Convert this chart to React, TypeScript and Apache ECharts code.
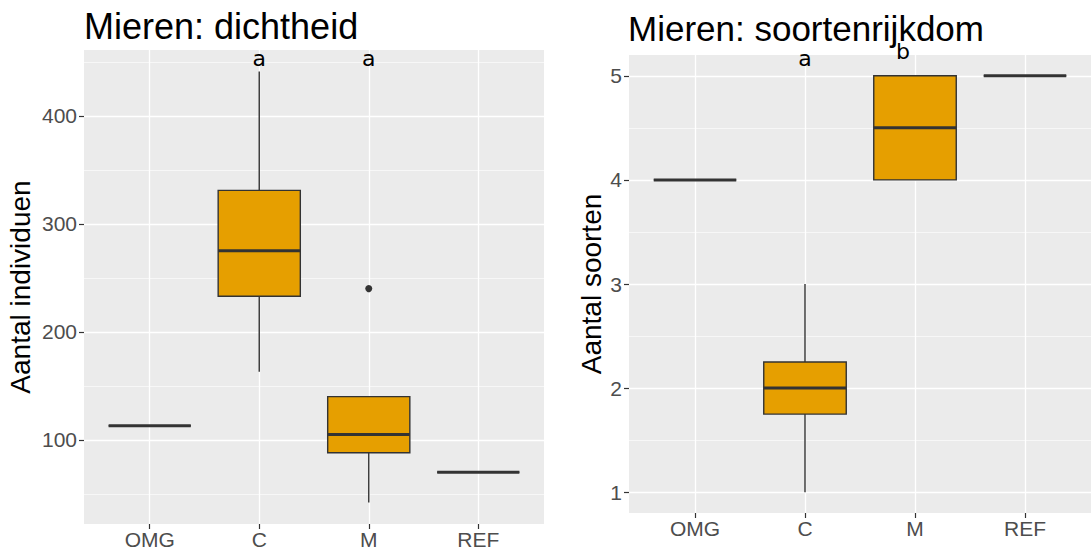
import React, { useEffect, useRef } from "react";
import * as echarts from "echarts";

// ---- data ----
const categories = ["OMG", "C", "M", "REF"];

// Left panel: Mieren: dichtheid (Aantal individuen)
const densityMin = [113, 163, 42, 70];
const densityQ1 = [113, 233, 88, 70];
const densityMedian = [113, 275, 105, 70];
const densityQ3 = [113, 331, 140, 70];
const densityMax = [113, 441, 140, 70];
const densityOutlierCats = ["M"];
const densityOutlierVals = [240];
const densityTicks = [100, 200, 300, 400];
const densityLetters = ["a", "a"];
const densityLetterX = [2, 3];
const densityLetterY = [453, 453];

// Right panel: Mieren: soortenrijkdom (Aantal soorten)
const richnessMin = [4, 1, 4, 5];
const richnessQ1 = [4, 1.75, 4, 5];
const richnessMedian = [4, 2, 4.5, 5];
const richnessQ3 = [4, 2.25, 5, 5];
const richnessMax = [4, 3, 5, 5];
const richnessTicks = [1, 2, 3, 4, 5];
const richnessLetters = ["a", "b"];
const richnessLetterX = [2, 2.89];
const richnessLetterY = [5.165, 5.235];

const FONT = "Liberation Sans";
const FILL = "#E69F00";
const STROKE = "#333333";

function buildRows(mn: number[], q1: number[], md: number[], q3: number[], mx: number[]) {
  return categories.map((_, i) => [i + 1, mn[i], q1[i], md[i], q3[i], mx[i]]);
}

function expand(lo: number, hi: number): [number, number] {
  const r = hi - lo;
  return [lo - 0.05 * r, hi + 0.05 * r];
}

const boxRender = (params: any, api: any) => {
  const x = api.value(0);
  const lo = api.value(1);
  const q1 = api.value(2);
  const med = api.value(3);
  const q3 = api.value(4);
  const hi = api.value(5);
  const hw = 0.375;
  const pTL = api.coord([x - hw, q3]);
  const pBR = api.coord([x + hw, q1]);
  const pML = api.coord([x - hw, med]);
  const pMR = api.coord([x + hw, med]);
  const pHi = api.coord([x, hi]);
  const pQ3 = api.coord([x, q3]);
  const pQ1 = api.coord([x, q1]);
  const pLo = api.coord([x, lo]);
  return {
    type: "group",
    children: [
      { type: "line", shape: { x1: pHi[0], y1: pHi[1], x2: pQ3[0], y2: pQ3[1] }, style: { stroke: STROKE, lineWidth: 1.4 } },
      { type: "line", shape: { x1: pQ1[0], y1: pQ1[1], x2: pLo[0], y2: pLo[1] }, style: { stroke: STROKE, lineWidth: 1.4 } },
      {
        type: "rect",
        shape: { x: pTL[0], y: pTL[1], width: pBR[0] - pTL[0], height: pBR[1] - pTL[1] },
        style: { fill: FILL, stroke: STROKE, lineWidth: 1.4 },
      },
      { type: "line", shape: { x1: pML[0], y1: pML[1], x2: pMR[0], y2: pMR[1] }, style: { stroke: STROKE, lineWidth: 3 } },
    ],
  };
};

const letterRender = (letters: string[]) => (params: any, api: any) => {
  const p = api.coord([api.value(0), api.value(1)]);
  return {
    type: "text",
    x: p[0],
    y: p[1],
    style: {
      text: letters[params.dataIndex],
      fill: "#000",
      font: '22px "DejaVu Sans"',
      align: "center",
      verticalAlign: "middle",
    },
  };
};

function xAxisFor(gridIndex: number) {
  return {
    type: "value",
    gridIndex,
    min: 0.4,
    max: 4.6,
    axisLine: { show: false },
    axisTick: { show: true, customValues: [1, 2, 3, 4], length: 5, lineStyle: { color: STROKE, width: 1.2 } },
    axisLabel: {
      customValues: [1, 2, 3, 4],
      formatter: (v: number) => categories[Math.round(v) - 1] ?? "",
      color: "#4D4D4D",
      fontSize: 21,
      fontFamily: FONT,
      margin: 5,
    },
    splitLine: { show: true, lineStyle: { color: "#FFFFFF", width: 1.3 } },
    minorSplitLine: { show: false },
  };
}

function yAxisFor(gridIndex: number, range: [number, number], ticks: number[], name: string, nameGap: number) {
  return {
    type: "value",
    gridIndex,
    min: range[0],
    max: range[1],
    name,
    nameLocation: "middle",
    nameGap,
    nameRotate: 90,
    nameTextStyle: { fontSize: 28, color: "#000", fontFamily: FONT },
    axisLine: { show: false },
    axisTick: { show: true, customValues: ticks, length: 5, lineStyle: { color: STROKE, width: 1.2 } },
    axisLabel: { customValues: ticks, color: "#4D4D4D", fontSize: 21, fontFamily: FONT, margin: 7 },
    splitLine: { show: true, lineStyle: { color: "#FFFFFF", width: 1.3 } },
    minorTick: { show: false, splitNumber: 2 },
    minorSplitLine: { show: true, lineStyle: { color: "#FFFFFF", width: 0.6 } },
  };
}

export default function App() {
  const ref = useRef<HTMLDivElement>(null);

  useEffect(() => {
    if (!ref.current) return;
    const chart = echarts.init(ref.current, undefined, { renderer: "svg" });

    const leftRange = expand(Math.min(...densityMin, ...densityOutlierVals), Math.max(...densityMax, ...densityOutlierVals));
    const rightRange = expand(Math.min(...richnessMin), Math.max(...richnessMax));

    const option: any = {
      animation: false,
      textStyle: { fontFamily: FONT },
      title: [
        {
          text: "Mieren: dichtheid",
          left: 84,
          top: 8,
          padding: 0,
          textStyle: { fontFamily: FONT, fontSize: 36, fontWeight: "normal", color: "#000" },
        },
        {
          text: "Mieren: soortenrijkdom",
          left: 628,
          top: 11,
          padding: 0,
          textStyle: { fontFamily: FONT, fontSize: 35, fontWeight: "normal", color: "#000" },
        },
      ],
      grid: [
        { left: 84, top: 50, width: 460, height: 474, show: true, backgroundColor: "#EBEBEB", borderWidth: 0, containLabel: false },
        { left: 629, top: 55, width: 470, height: 458, show: true, backgroundColor: "#EBEBEB", borderWidth: 0, containLabel: false },
      ],
      xAxis: [xAxisFor(0), xAxisFor(1)],
      yAxis: [
        yAxisFor(0, leftRange, densityTicks, "Aantal individuen", 50),
        yAxisFor(1, rightRange, richnessTicks, "Aantal soorten", 24),
      ],
      series: [
        {
          type: "custom",
          xAxisIndex: 0,
          yAxisIndex: 0,
          renderItem: boxRender,
          encode: { x: 0, y: [1, 2, 3, 4, 5] },
          data: buildRows(densityMin, densityQ1, densityMedian, densityQ3, densityMax),
          z: 3,
        },
        {
          type: "scatter",
          xAxisIndex: 0,
          yAxisIndex: 0,
          symbolSize: 7,
          itemStyle: { color: STROKE, opacity: 1 },
          data: densityOutlierCats.map((c, i) => [categories.indexOf(c) + 1, densityOutlierVals[i]]),
          z: 4,
        },
        {
          type: "custom",
          xAxisIndex: 0,
          yAxisIndex: 0,
          renderItem: letterRender(densityLetters),
          clip: false,
          data: densityLetterX.map((x, i) => [x, densityLetterY[i]]),
          z: 5,
        },
        {
          type: "custom",
          xAxisIndex: 1,
          yAxisIndex: 1,
          renderItem: boxRender,
          encode: { x: 0, y: [1, 2, 3, 4, 5] },
          data: buildRows(richnessMin, richnessQ1, richnessMedian, richnessQ3, richnessMax),
          z: 3,
        },
        {
          type: "custom",
          xAxisIndex: 1,
          yAxisIndex: 1,
          renderItem: letterRender(richnessLetters),
          clip: false,
          data: richnessLetterX.map((x, i) => [x, richnessLetterY[i]]),
          z: 5,
        },
      ],
    };

    chart.setOption(option);
    return () => chart.dispose();
  }, []);

  return (
    <div
      ref={ref}
      style={{ position: "absolute", left: 0, top: 0, width: 1091, height: 550, background: "#fff" }}
    />
  );
}
